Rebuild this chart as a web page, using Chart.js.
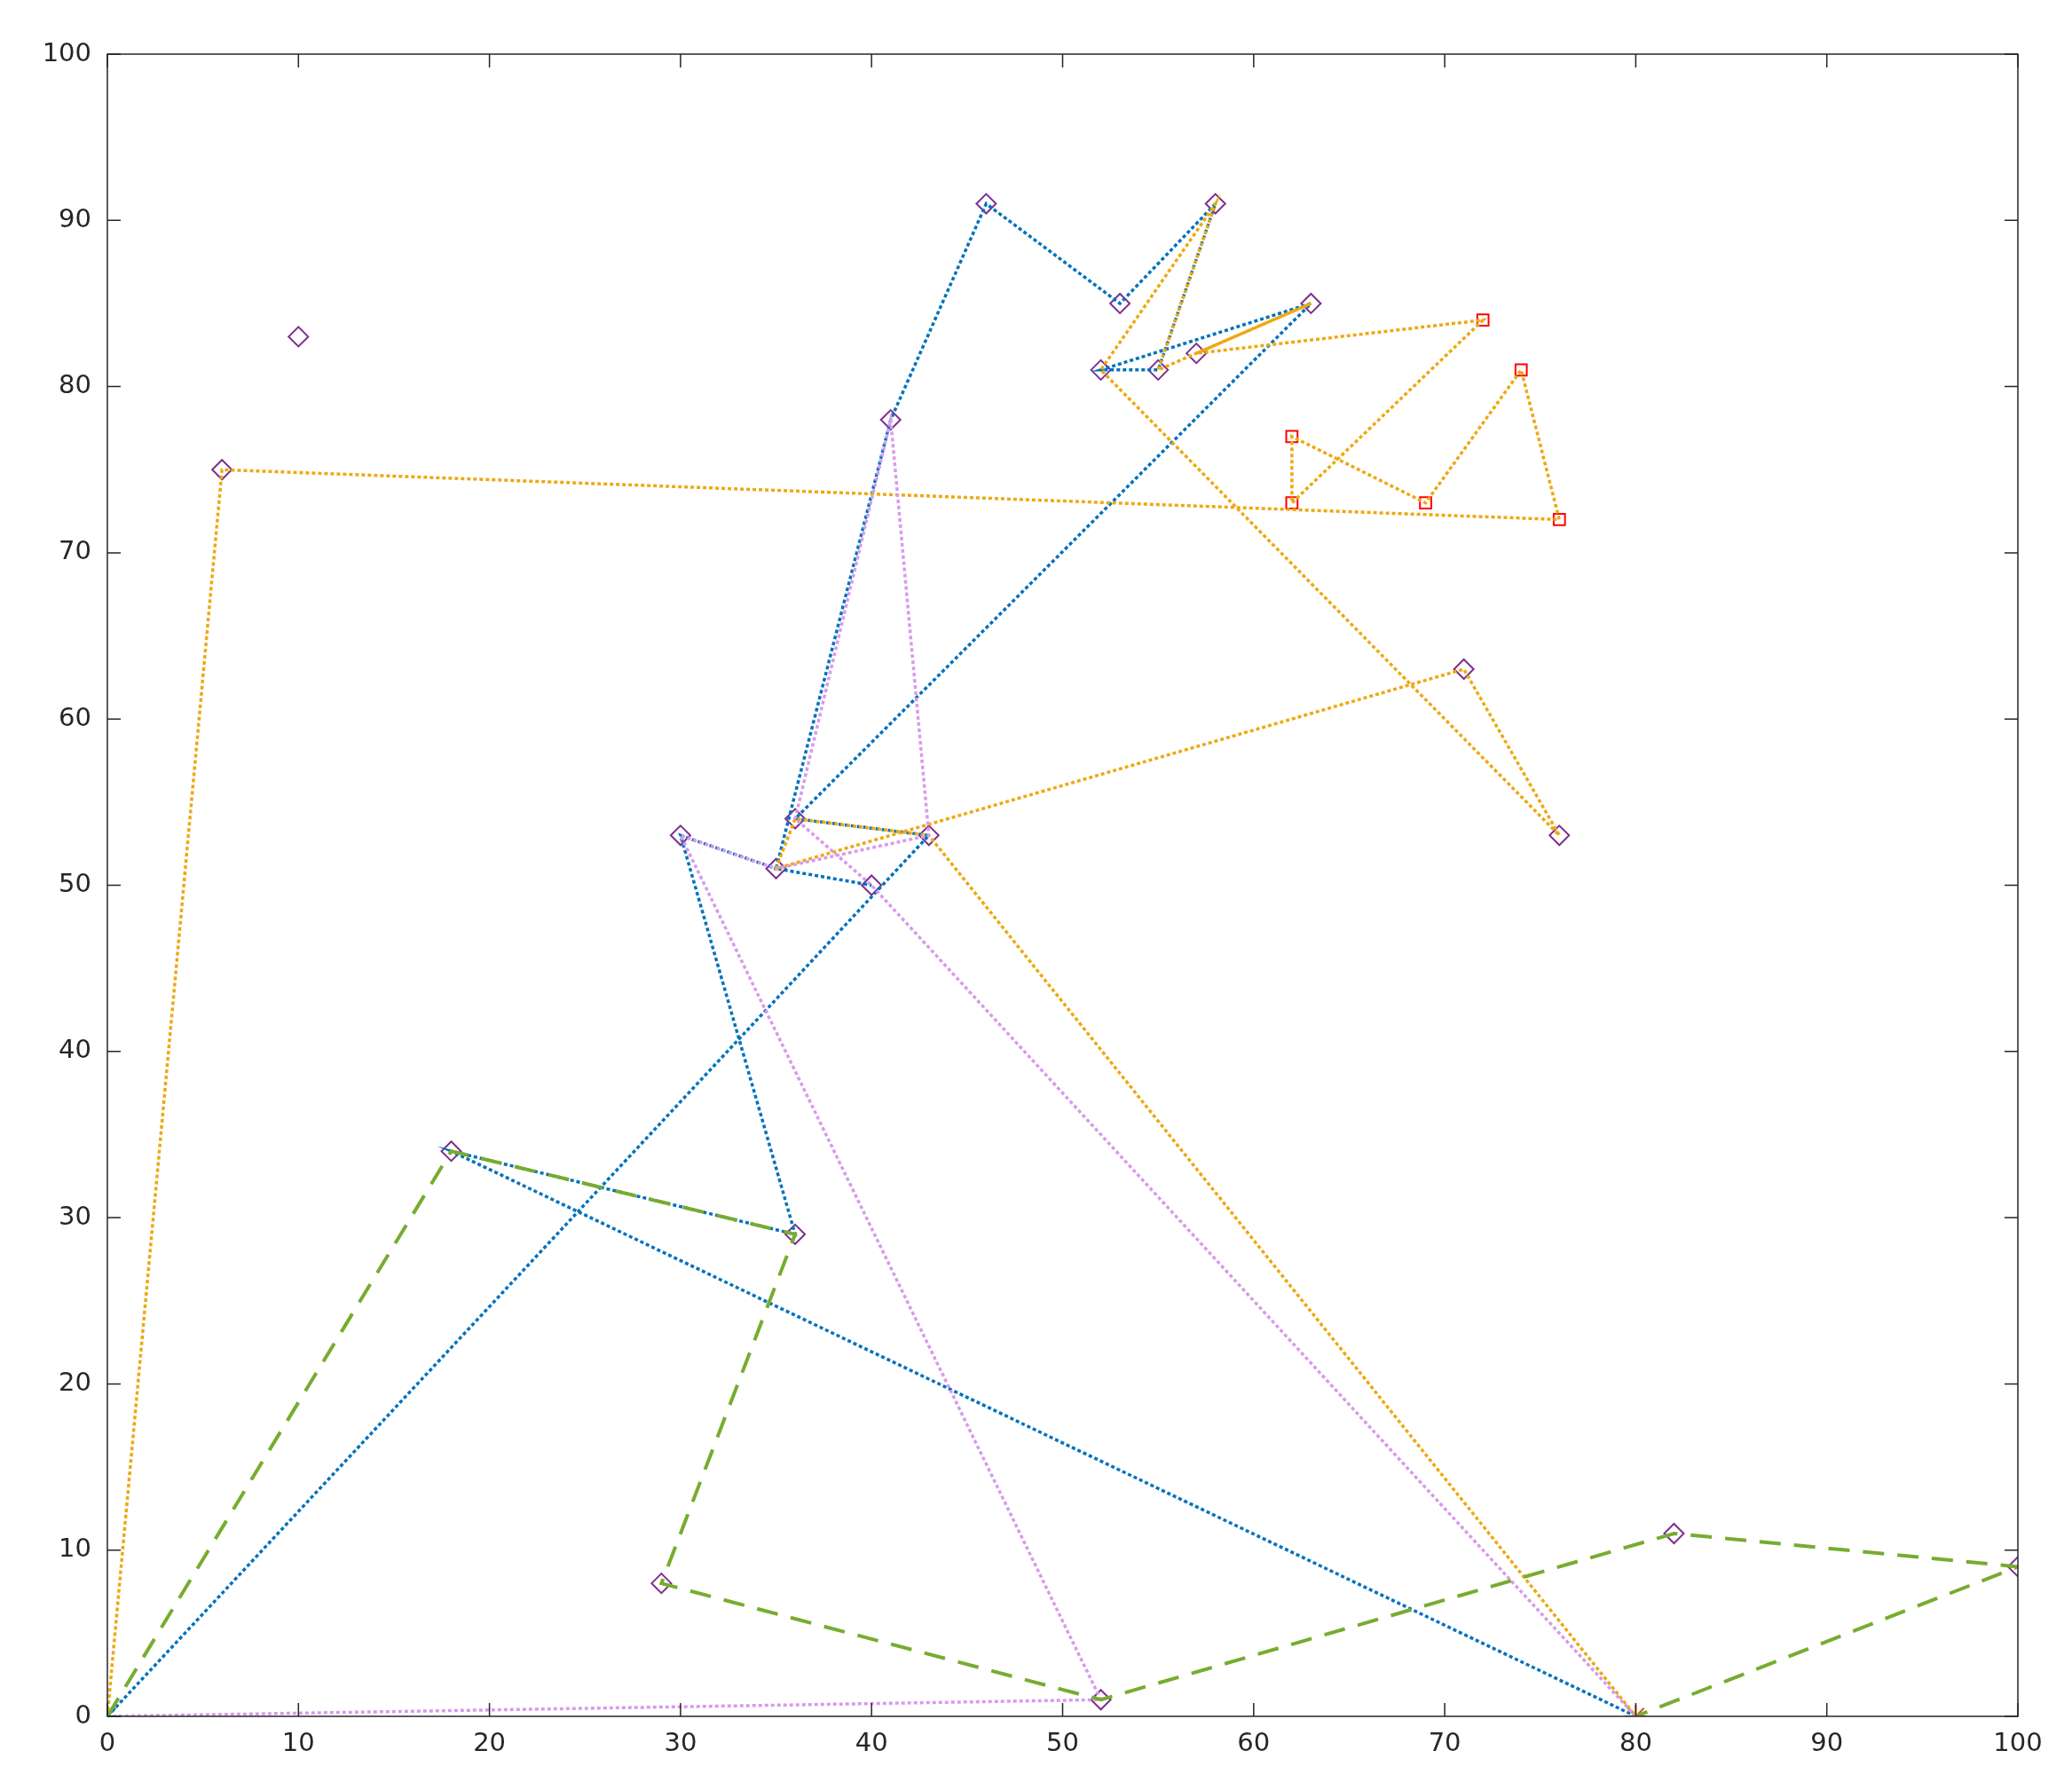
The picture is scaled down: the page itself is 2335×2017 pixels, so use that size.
<!DOCTYPE html>
<html><head><meta charset="utf-8">
<script src="https://cdn.jsdelivr.net/npm/chart.js@4"></script>
<style>body{margin:0;background:#fff}canvas{display:block}</style>
</head><body>
<canvas id="c" width="2335" height="2017"></canvas>
<script>
// routes as [x, y] lists
const blueRoute1 = [[0,0],[43,53],[36,54],[63,85],[52,81],[55,81],[58,91],[53,85],[46,91],[41,78],[35,51],[40,50]];
const blueRoute2 = [[80,0],[18,34],[36,29],[30,53],[35,51]];
const orangeRoute = [[0,0],[6,75],[76,72],[74,81],[69,73],[62,77],[62,73],[72,84],[57,82],[63,85],[55,81],[58,91],[52,81],[76,53],[71,63],[35,51],[36,54],[43,53],[80,0]];
const pinkRoute = [[80,0],[40,50],[36,54],[41,78],[43,53],[35,51],[30,53],[52,1],[0,0]];
const greenRoute = [[0,0],[18,34],[36,29],[29,8],[52,1],[82,11],[100,9],[80,0]];
const customers = [[10,83],[6,75],[46,91],[58,91],[53,85],[63,85],[57,82],[52,81],[55,81],[41,78],[71,63],[76,53],[30,53],[43,53],[36,54],[35,51],[40,50],[18,34],[36,29],[82,11],[100,9],[29,8],[52,1]];
const redNodes = [[62,77],[62,73],[69,73],[72,84],[74,81],[76,72]];
const depots = [[0,0],[80,0]];
const axisTicks = [0,10,20,30,40,50,60,70,80,90,100];

const pts = a => a.map(([x, y]) => ({x, y}));
const line = (data, color, dash, w) => ({
  data: pts(data), showLine: true, borderColor: color, borderWidth: w,
  borderDash: dash, pointRadius: 0, fill: false
});

const frame = {
  id: 'frame',
  afterDraw(chart) {
    const {ctx, chartArea: a, scales: {x, y}} = chart;
    ctx.save();
    ctx.strokeStyle = '#262626';
    ctx.lineWidth = 1.5;
    ctx.strokeRect(a.left, a.top, a.right - a.left, a.bottom - a.top);
    ctx.beginPath();
    axisTicks.forEach(v => {
      const px = x.getPixelForValue(v), py = y.getPixelForValue(v);
      ctx.moveTo(px, a.bottom); ctx.lineTo(px, a.bottom - 15);
      ctx.moveTo(px, a.top); ctx.lineTo(px, a.top + 15);
      ctx.moveTo(a.left, py); ctx.lineTo(a.left + 15, py);
      ctx.moveTo(a.right, py); ctx.lineTo(a.right - 15, py);
    });
    ctx.stroke();
    ctx.restore();
  }
};

new Chart(document.getElementById('c'), {
  type: 'scatter',
  data: {
    datasets: [
      line(greenRoute, '#77AC30', [24, 15], 4),
      line(pinkRoute, '#D89BEA', [4, 3], 3.5),
      line(orangeRoute, '#EDA912', [4, 3], 3.5),
      line(blueRoute1, '#0072BD', [4, 3], 3.5),
      line(blueRoute2, '#0072BD', [4, 3], 3.5),
      {data: pts(customers), pointStyle: 'rectRot', pointRadius: 11, borderColor: '#7E2F8E', backgroundColor: 'rgba(0,0,0,0)', borderWidth: 2},
      {data: pts(redNodes), pointStyle: 'rect', pointRadius: 9, borderColor: '#FF0000', backgroundColor: 'rgba(0,0,0,0)', borderWidth: 2},
      {data: pts(depots.slice(0,1)), pointStyle: 'star', pointRadius: 13, borderColor: '#0072BD', borderWidth: 2},
      {data: pts(depots.slice(1)), pointStyle: 'star', pointRadius: 13, borderColor: '#D95319', borderWidth: 2}
    ]
  },
  options: {
    responsive: false, animation: false,
    layout: {padding: {top: 61, right: 61, left: 0, bottom: 0}},
    plugins: {legend: {display: false}, tooltip: {enabled: false}},
    scales: {
      x: {min: 0, max: 100, grid: {display: false}, border: {display: false},
        afterFit: s => { s.height = 83; },
        ticks: {stepSize: 10, color: '#262626', padding: 6, font: {family: 'DejaVu Sans', size: 29}}},
      y: {min: 0, max: 100, grid: {display: false}, border: {display: false},
        afterFit: s => { s.width = 121; },
        ticks: {stepSize: 10, color: '#262626', padding: 10, font: {family: 'DejaVu Sans', size: 29}}}
    }
  },
  plugins: [frame]
});
</script>
</body></html>
